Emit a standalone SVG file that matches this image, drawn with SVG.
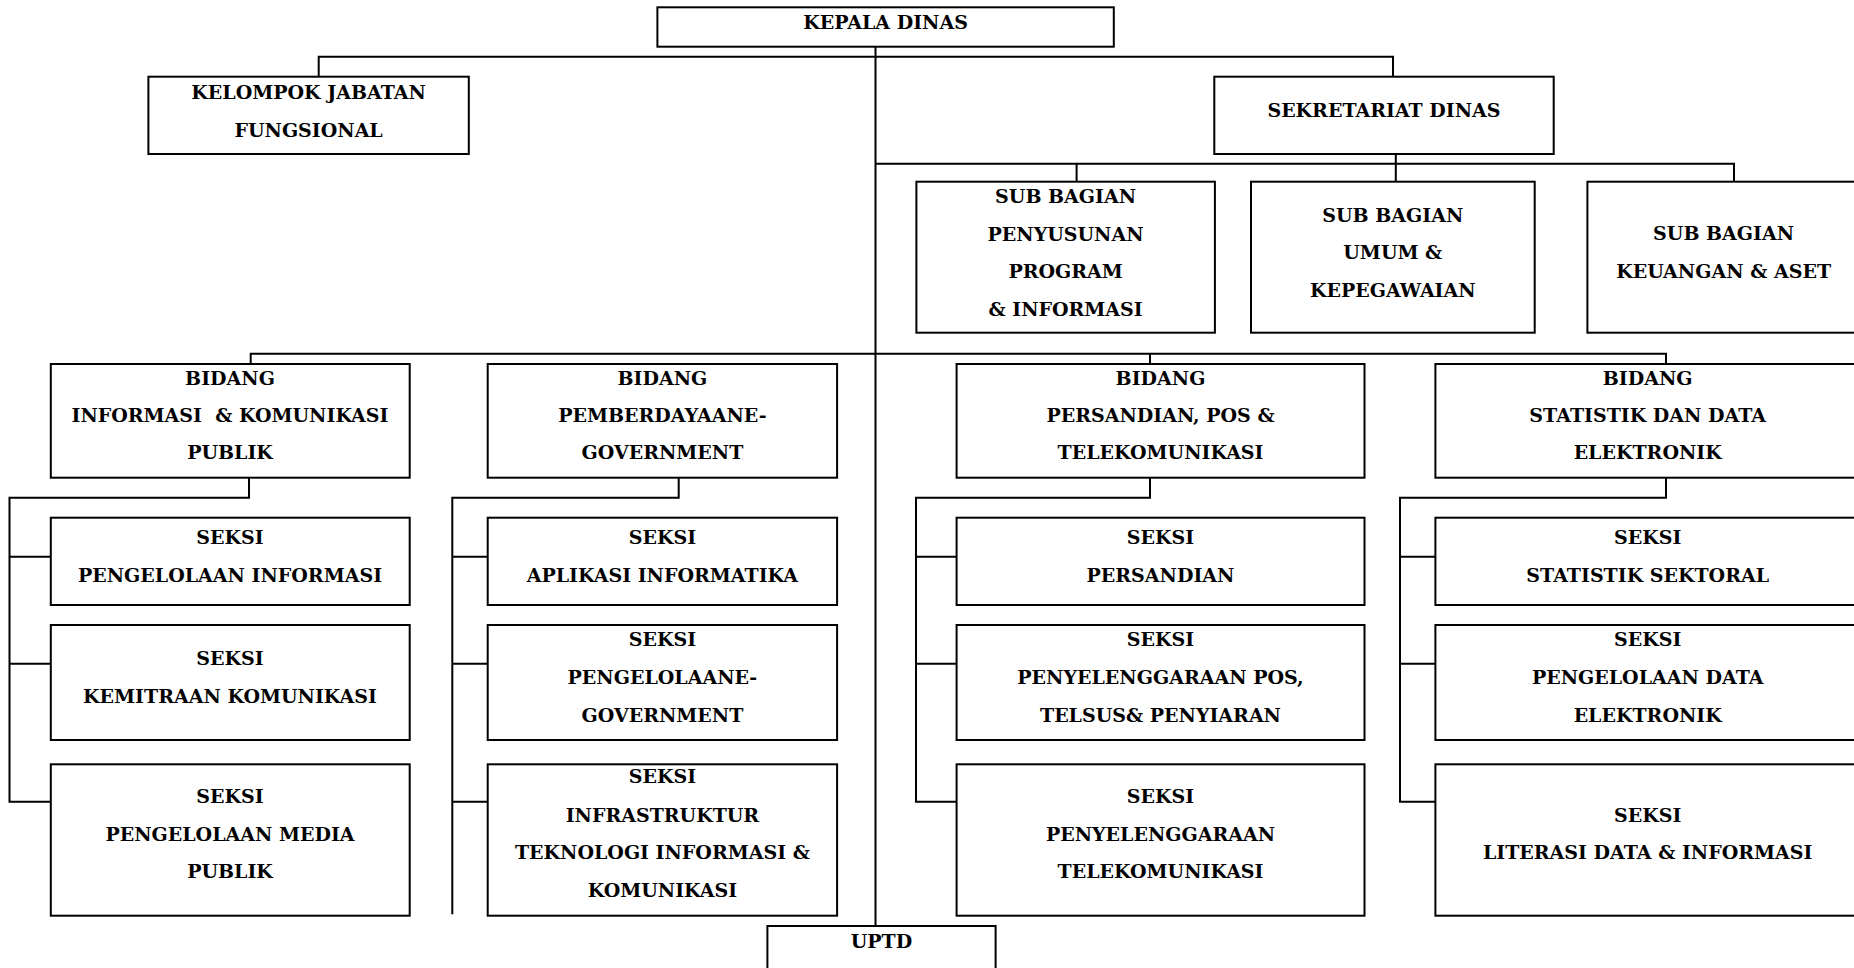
<svg xmlns="http://www.w3.org/2000/svg" width="1854" height="968" viewBox="0 0 1854 968">
<style>
.box{fill:#fff;stroke:#000;stroke-width:2}
.ln{fill:none;stroke:#000;stroke-width:2}
text{font-family:"DejaVu Serif","Liberation Serif",serif;font-weight:bold;font-size:19px;text-anchor:middle;fill:#000}
.pre{white-space:pre}
</style>
<rect width="1854" height="968" fill="#fff"/>
<g id="connectors" class="ln">
<path d="M875.5 46.7V926"/>
<path d="M318.7 76.7V56.7H1393V76.7"/>
<path d="M875.5 163.7H1734V181.7M1076.6 163.7V181.7M1395.8 154V181.7"/>
<path d="M250.7 364V353.7H1666V364M1150 353.7V364"/>
<path d="M249 477.7V497.7H9.5V801.7H50.8M9.5 556.7H50.8M9.5 663.7H50.8"/>
<path d="M678.7 477.7V497.7H452.3V914.3M452.3 556.7H487.7M452.3 663.7H487.7M452.3 801.7H487.7"/>
<path d="M1150 477.7V497.7H916V801.7H956.6M916 556.7H956.6M916 663.7H956.6"/>
<path d="M1666 477.7V497.7H1400V801.7H1435.4M1400 556.7H1435.4M1400 663.7H1435.4"/>
</g>
<g id="kepala"><rect class="box" x="657.4" y="7.3" width="456.4" height="39.4"/><text x="885.6" y="29">KEPALA DINAS</text></g>
<g id="kelompok"><rect class="box" x="148.4" y="76.7" width="320.4" height="77.3"/><text x="308.6" y="98.7">KELOMPOK JABATAN</text><text x="308.6" y="136.7">FUNGSIONAL</text></g>
<g id="sekretariat"><rect class="box" x="1214.3" y="76.7" width="339.4" height="77.3"/><text x="1384" y="117.3">SEKRETARIAT DINAS</text></g>
<g id="sb-program"><rect class="box" x="916.4" y="181.7" width="298.5" height="151"/><text x="1065.6" y="203.3">SUB BAGIAN</text><text x="1065.6" y="240.7">PENYUSUNAN</text><text x="1065.6" y="278.3">PROGRAM</text><text x="1065.6" y="315.7">&amp; INFORMASI</text></g>
<g id="sb-umum"><rect class="box" x="1251" y="181.7" width="283.7" height="151"/><text x="1392.8" y="222.3">SUB BAGIAN</text><text x="1392.8" y="259.3">UMUM &amp;</text><text x="1392.8" y="296.7">KEPEGAWAIAN</text></g>
<g id="sb-keuangan"><rect class="box" x="1587.4" y="181.7" width="273" height="151"/><text x="1723.6" y="240">SUB BAGIAN</text><text x="1723.6" y="277.7">KEUANGAN &amp; ASET</text></g>
<g id="bidang-ikp"><rect class="box" x="50.8" y="364" width="358.9" height="113.7"/><text x="230" y="385">BIDANG</text><text class="pre" x="230" y="421.7">INFORMASI  &amp; KOMUNIKASI</text><text x="230" y="459">PUBLIK</text></g>
<g id="bidang-egov"><rect class="box" x="487.7" y="364" width="349.4" height="113.7"/><text x="662.4" y="385">BIDANG</text><text x="662.4" y="421.7">PEMBERDAYAANE-</text><text x="662.4" y="459">GOVERNMENT</text></g>
<g id="bidang-pos"><rect class="box" x="956.6" y="364" width="407.9" height="113.7"/><text x="1160.5" y="385">BIDANG</text><text x="1160.5" y="421.7">PERSANDIAN, POS &amp;</text><text x="1160.5" y="459">TELEKOMUNIKASI</text></g>
<g id="bidang-stat"><rect class="box" x="1435.4" y="364" width="425" height="113.7"/><text x="1647.7" y="385">BIDANG</text><text x="1647.7" y="421.7">STATISTIK DAN DATA</text><text x="1647.7" y="459">ELEKTRONIK</text></g>
<g id="s-1-1"><rect class="box" x="50.8" y="517.7" width="358.9" height="87.3"/><text x="230" y="544.3">SEKSI</text><text x="230" y="581.7">PENGELOLAAN INFORMASI</text></g>
<g id="s-1-2"><rect class="box" x="50.8" y="625" width="358.9" height="115"/><text x="230" y="665">SEKSI</text><text x="230" y="702.7">KEMITRAAN KOMUNIKASI</text></g>
<g id="s-1-3"><rect class="box" x="50.8" y="764.3" width="358.9" height="151.4"/><text x="230" y="803.3">SEKSI</text><text x="230" y="841">PENGELOLAAN MEDIA</text><text x="230" y="878.3">PUBLIK</text></g>
<g id="s-2-1"><rect class="box" x="487.7" y="517.7" width="349.4" height="87.3"/><text x="662.4" y="544.3">SEKSI</text><text x="662.4" y="581.7">APLIKASI INFORMATIKA</text></g>
<g id="s-2-2"><rect class="box" x="487.7" y="625" width="349.4" height="115"/><text x="662.4" y="646">SEKSI</text><text x="662.4" y="684">PENGELOLAANE-</text><text x="662.4" y="721.7">GOVERNMENT</text></g>
<g id="s-2-3"><rect class="box" x="487.7" y="764.3" width="349.4" height="151.4"/><text x="662.4" y="783.3">SEKSI</text><text x="662.4" y="821.7">INFRASTRUKTUR</text><text x="662.4" y="859.3">TEKNOLOGI INFORMASI &amp;</text><text x="662.4" y="897.3">KOMUNIKASI</text></g>
<g id="s-3-1"><rect class="box" x="956.6" y="517.7" width="407.9" height="87.3"/><text x="1160.5" y="544.3">SEKSI</text><text x="1160.5" y="581.7">PERSANDIAN</text></g>
<g id="s-3-2"><rect class="box" x="956.6" y="625" width="407.9" height="115"/><text x="1160.5" y="646">SEKSI</text><text x="1160.5" y="684">PENYELENGGARAAN POS,</text><text x="1160.5" y="721.7">TELSUS&amp; PENYIARAN</text></g>
<g id="s-3-3"><rect class="box" x="956.6" y="764.3" width="407.9" height="151.4"/><text x="1160.5" y="803.3">SEKSI</text><text x="1160.5" y="841">PENYELENGGARAAN</text><text x="1160.5" y="878.3">TELEKOMUNIKASI</text></g>
<g id="s-4-1"><rect class="box" x="1435.4" y="517.7" width="425" height="87.3"/><text x="1647.7" y="544.3">SEKSI</text><text x="1647.7" y="581.7">STATISTIK SEKTORAL</text></g>
<g id="s-4-2"><rect class="box" x="1435.4" y="625" width="425" height="115"/><text x="1647.7" y="646">SEKSI</text><text x="1647.7" y="684">PENGELOLAAN DATA</text><text x="1647.7" y="721.7">ELEKTRONIK</text></g>
<g id="s-4-3"><rect class="box" x="1435.4" y="764.3" width="425" height="151.4"/><text x="1647.7" y="821.7">SEKSI</text><text x="1647.7" y="859.3">LITERASI DATA &amp; INFORMASI</text></g>
<g id="uptd"><rect class="box" x="767.4" y="926" width="228.2" height="60"/><text x="881.5" y="948.3">UPTD</text></g>
</svg>
